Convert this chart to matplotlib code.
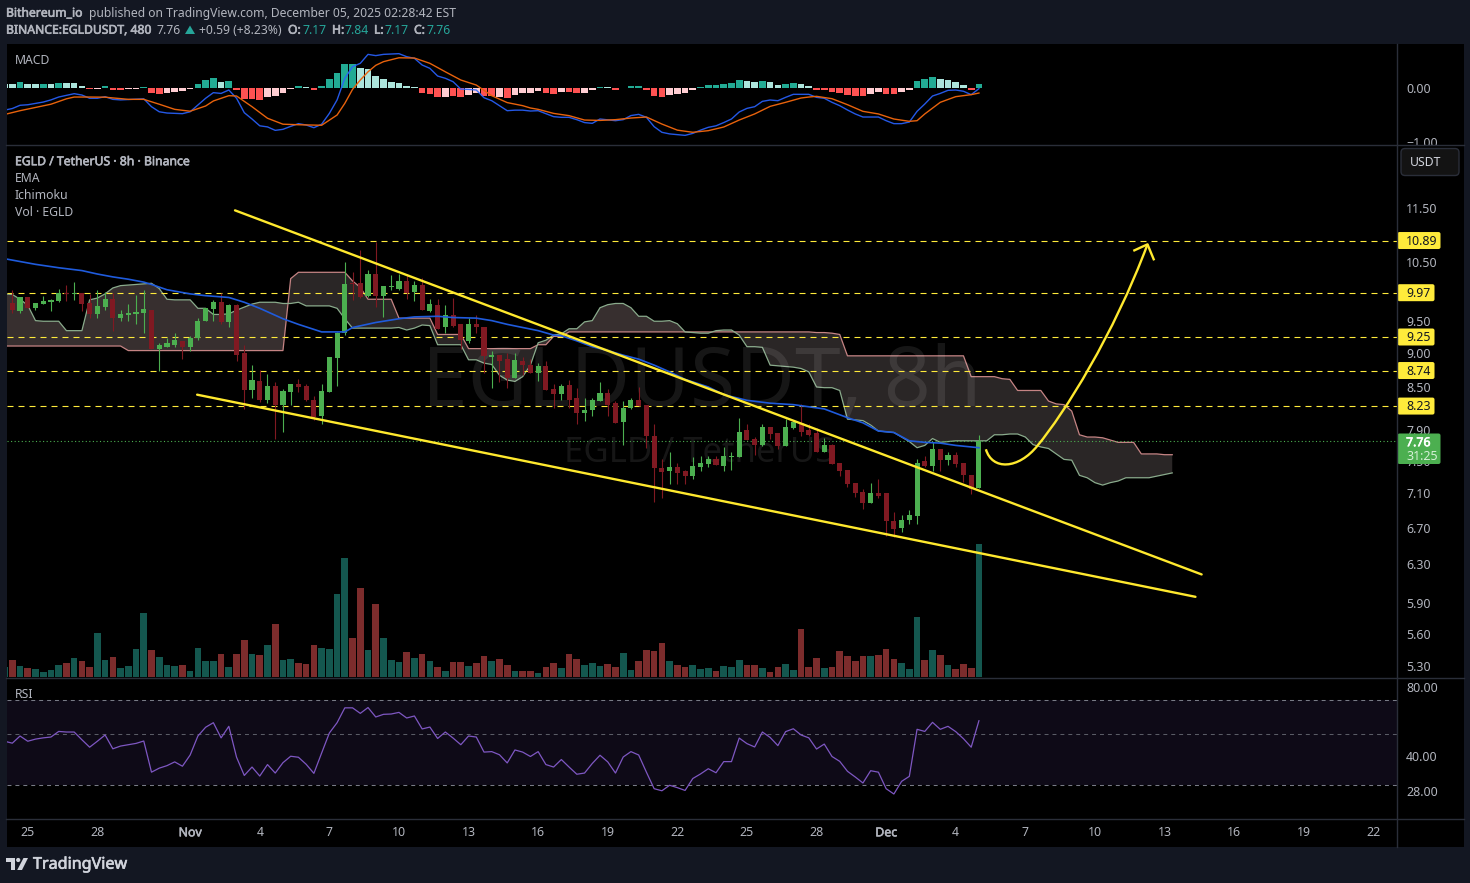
import matplotlib
matplotlib.use('Agg')
import matplotlib.pyplot as plt
import matplotlib.patheffects as pe
import numpy as np
from matplotlib.patches import FancyBboxPatch, PathPatch, Polygon, Circle, Rectangle
from matplotlib.path import Path
from matplotlib.ticker import NullFormatter

plt.rcParams['font.family'] = ['Noto Sans', 'DejaVu Sans']

W, H = 1470, 883

# candles, 8h bars, first entry is the bar cut off by the left edge
open_ = [9.75, 9.80, 9.67, 9.89, 9.71, 9.78, 9.81, 9.83, 9.97, 9.95, 9.96,
         9.80, 9.62, 9.73, 9.86, 9.55, 9.60, 9.62, 9.63, 9.68, 9.07,
         9.10, 9.13, 9.18, 9.10, 9.23, 9.50, 9.70, 9.81, 9.48, 9.76,
         9.00, 8.45, 8.58, 8.32, 8.51, 8.25, 8.43, 8.54, 8.51, 8.32,
         8.09, 8.43, 8.93, 9.31, 10.13, 10.13, 9.91, 10.29, 9.91, 10.06,
         10.04, 10.17, 9.99, 10.10, 9.67, 9.76, 9.40, 9.60, 9.45, 9.18,
         9.45, 9.41, 8.94, 8.97, 8.91, 8.63, 8.88, 8.82, 8.71, 8.81,
         8.47, 8.40, 8.53, 8.35, 8.14, 8.17, 8.30, 8.41, 8.27, 8.01,
         8.21, 8.31, 8.24, 7.83, 7.41, 7.37, 7.43, 7.37, 7.31, 7.42,
         7.46, 7.52, 7.44, 7.55, 7.55, 7.90, 7.78, 7.70, 7.95, 7.86,
         7.69, 7.93, 8.00, 7.90, 7.86, 7.62, 7.70, 7.47, 7.39, 7.22,
         7.12, 6.98, 7.11, 7.10, 6.78, 6.70, 6.79, 6.83, 7.50, 7.44,
         7.65, 7.51, 7.57, 7.47, 7.32, 7.17]
high = [9.90, 10.01, 9.89, 9.89, 9.80, 9.92, 9.86, 10.03, 10.10, 10.15, 9.97,
        9.94, 10.01, 9.99, 9.96, 9.68, 9.78, 9.93, 10.01, 9.68, 9.15,
        9.24, 9.31, 9.18, 9.26, 9.55, 9.71, 9.85, 9.97, 9.78, 9.78,
        9.12, 8.82, 8.75, 8.69, 8.57, 8.47, 8.54, 8.61, 8.54, 8.37,
        8.54, 8.94, 9.33, 10.50, 10.32, 10.71, 10.36, 10.87, 10.08, 10.27,
        10.29, 10.29, 10.17, 10.22, 9.86, 9.86, 9.76, 9.88, 9.45, 9.56,
        9.60, 9.41, 9.04, 8.98, 9.00, 9.00, 8.94, 8.91, 8.85, 8.88,
        8.54, 8.55, 8.60, 8.48, 8.34, 8.35, 8.57, 8.47, 8.30, 8.30,
        8.34, 8.50, 8.24, 7.98, 7.52, 7.62, 7.47, 7.39, 7.55, 7.56,
        7.56, 7.56, 7.68, 7.61, 8.06, 7.98, 7.81, 7.98, 7.95, 7.86,
        8.05, 8.03, 8.26, 7.98, 7.93, 7.80, 7.72, 7.48, 7.39, 7.23,
        7.15, 7.22, 7.27, 7.10, 6.88, 6.84, 6.90, 7.52, 7.56, 7.74,
        7.65, 7.61, 7.61, 7.47, 7.33, 7.84]
low = [9.70, 9.64, 9.63, 9.71, 9.68, 9.78, 9.67, 9.81, 9.83, 9.85, 9.67,
       9.55, 9.55, 9.68, 9.34, 9.51, 9.51, 9.46, 9.32, 9.07, 8.73,
       9.09, 9.09, 8.91, 9.04, 9.21, 9.50, 9.51, 9.45, 9.40, 8.88,
       8.19, 8.35, 8.28, 8.27, 7.78, 7.88, 8.24, 8.43, 8.30, 8.04,
       7.98, 8.43, 8.51, 9.28, 9.85, 9.88, 9.89, 9.73, 9.57, 10.01,
       10.01, 9.86, 9.83, 9.68, 9.65, 9.38, 9.32, 9.41, 9.07, 9.15,
       9.32, 8.70, 8.48, 8.57, 8.48, 8.63, 8.67, 8.70, 8.58, 8.45,
       8.21, 8.31, 8.21, 7.98, 8.02, 8.09, 8.30, 8.09, 8.00, 7.70,
       8.19, 8.23, 7.67, 7.00, 7.05, 7.21, 7.21, 7.21, 7.28, 7.38,
       7.42, 7.45, 7.38, 7.39, 7.55, 7.77, 7.58, 7.69, 7.78, 7.65,
       7.69, 7.92, 7.82, 7.82, 7.62, 7.62, 7.46, 7.31, 7.18, 7.06,
       6.91, 6.98, 7.05, 6.61, 6.59, 6.65, 6.74, 6.74, 7.42, 7.37,
       7.37, 7.45, 7.42, 7.24, 7.09, 7.17]
close = [9.85, 9.68, 9.89, 9.71, 9.80, 9.83, 9.85, 9.97, 9.95, 9.96, 9.78,
         9.62, 9.75, 9.86, 9.55, 9.62, 9.63, 9.65, 9.70, 9.07, 9.12,
         9.15, 9.20, 9.10, 9.23, 9.51, 9.71, 9.81, 9.48, 9.76, 8.98,
         8.45, 8.60, 8.31, 8.51, 8.25, 8.44, 8.54, 8.50, 8.31, 8.08,
         8.44, 8.94, 9.32, 10.11, 10.11, 9.89, 10.29, 9.91, 10.08, 10.08,
         10.17, 9.97, 10.10, 9.68, 9.78, 9.38, 9.60, 9.43, 9.20, 9.45,
         9.40, 8.95, 8.97, 8.88, 8.63, 8.90, 8.82, 8.70, 8.81, 8.45,
         8.40, 8.51, 8.32, 8.14, 8.17, 8.31, 8.41, 8.25, 8.00, 8.21,
         8.31, 8.23, 7.82, 7.41, 7.36, 7.43, 7.35, 7.31, 7.44, 7.47,
         7.52, 7.45, 7.56, 7.56, 7.88, 7.77, 7.70, 7.95, 7.85, 7.69,
         7.94, 8.01, 7.88, 7.84, 7.62, 7.70, 7.46, 7.38, 7.21, 7.10,
         6.98, 7.10, 7.07, 6.78, 6.69, 6.79, 6.84, 7.48, 7.44, 7.65,
         7.51, 7.57, 7.46, 7.33, 7.15, 7.76]

volume = [30, 51, 33, 27, 24, 15, 21, 36, 42, 57, 48, 30, 132, 51, 60, 27, 33, 84, 192,
          81, 60, 36, 33, 36, 18, 87, 48, 48, 69, 30, 69, 111, 69, 66, 96, 159, 51, 54,
          42, 39, 96, 87, 84, 249, 357, 117, 267, 81, 219, 117, 51, 45, 75, 57, 69, 48,
          30, 18, 45, 45, 33, 42, 63, 48, 54, 36, 18, 18, 18, 12, 30, 42, 27, 69, 54, 36,
          42, 33, 39, 30, 72, 21, 48, 81, 78, 102, 48, 36, 30, 36, 24, 27, 18, 33, 30, 51,
          36, 36, 27, 15, 30, 39, 21, 144, 30, 57, 27, 30, 78, 63, 48, 63, 63, 66, 84, 54,
          42, 24, 180, 51, 81, 66, 36, 24, 39, 27, 399]

# ichimoku spans, one value per bar, running 25 bars past the last candle
span_a = [9.95, 9.94, 9.86, 9.76, 9.51, 9.50, 9.50, 9.50, 9.35, 9.35, 9.35, 9.85, 9.88, 9.95,
          10.05, 10.09, 10.10, 10.11, 10.12, 10.13, 10.04, 9.86, 9.85, 9.85, 9.85, 9.71, 9.71,
          9.61, 9.61, 9.62, 9.68, 9.73, 9.78, 9.81, 9.81, 9.81, 9.79, 9.79, 9.81, 9.75, 9.75,
          9.75, 9.75, 9.71, 9.54, 9.39, 9.39, 9.39, 9.39, 9.39, 9.39, 9.40, 9.36, 9.39, 9.44,
          9.43, 9.13, 9.13, 9.13, 9.13, 8.90, 8.90, 8.85, 8.83, 8.67, 8.60, 8.58, 8.65, 8.82,
          9.16, 9.20, 9.28, 9.30, 9.38, 9.38, 9.49, 9.51, 9.72, 9.77, 9.79, 9.79, 9.72, 9.58,
          9.58, 9.50, 9.50, 9.51, 9.46, 9.33, 9.32, 9.31, 9.31, 9.35, 9.36, 9.36, 9.28, 9.10,
          9.10, 9.09, 8.82, 8.81, 8.80, 8.79, 8.77, 8.72, 8.50, 8.49, 8.49, 8.45, 8.05, 8.04,
          8.03, 7.97, 7.89, 7.88, 7.87, 7.81, 7.75, 7.67, 7.70, 7.79, 7.74, 7.75, 7.76, 7.76,
          7.76, 7.76, 7.76, 7.84, 7.84, 7.85, 7.85, 7.81, 7.71, 7.68, 7.66, 7.59, 7.52, 7.51,
          7.32, 7.29, 7.23, 7.20, 7.23, 7.25, 7.29, 7.29, 7.29, 7.29, 7.31, 7.33, 7.35]
span_b = ([9.11] * 16 + [9.04] * 21 + [10.21] + [10.32] * 7 + [10.17, 10.06] + [9.86] * 4
          + [9.55] * 5 + [9.29] * 4 + [9.07] * 9 + [9.13, 9.13, 9.26, 9.26] + [9.33] * 32
          + [9.32, 9.32, 9.31, 9.29] + [8.96] * 16 + [8.65] * 4 + [8.62, 8.61] + [8.45] * 4
          + [8.30, 8.26, 8.25, 8.16, 7.84, 7.81, 7.81, 7.80, 7.77, 7.74, 7.74, 7.74,
             7.59, 7.59, 7.59, 7.58, 7.58])

ema_bars = [-1, 3, 6, 9, 11, 13, 15, 17, 18, 20, 23, 25, 28, 30, 32, 35, 37, 39, 40, 43, 44, 47,
            50, 52, 55, 57, 60, 62, 64, 68, 70, 71, 73, 75, 77, 79, 81, 83, 85, 87, 90, 92, 95,
            98, 101, 103, 105, 108, 110, 112, 114, 116, 118, 120, 122, 124, 125]
ema = [10.56, 10.46, 10.40, 10.35, 10.29, 10.24, 10.20, 10.15, 10.11, 10.02, 9.95, 9.92, 9.89,
       9.81, 9.71, 9.54, 9.45, 9.37, 9.33, 9.33, 9.40, 9.48, 9.54, 9.57, 9.58, 9.56, 9.55, 9.51,
       9.45, 9.35, 9.28, 9.27, 9.19, 9.10, 9.04, 8.97, 8.91, 8.82, 8.72, 8.61, 8.50, 8.39, 8.31,
       8.27, 8.25, 8.22, 8.19, 8.07, 8.00, 7.89, 7.87, 7.76, 7.74, 7.73, 7.70, 7.68, 7.67]

levels = [10.89, 9.97, 9.25, 8.74, 8.23]
last_price = 7.76
price_ticks = [11.5, 10.5, 9.5, 9.0, 8.5, 7.9, 7.5, 7.1, 6.7, 6.3, 5.9, 5.6, 5.3]

# drawings on the chart, (bar, price)
upper_trend = [(28.8, 11.46), (153.8, 6.19)]
lower_trend = [(23.9, 8.39), (153.0, 5.96)]
# two cubic pieces: start, control, control, joint, control, control, tip
arrow_bars = [125.9, 126.7, 130.1, 132.6, 136.1, 142.4, 146.8]
arrow_prices = [7.65, 7.38, 7.39, 7.70, 8.14, 9.28, 10.82]
arrow_head_bars = [145.1, 146.8, 147.6]
arrow_head_prices = [10.71, 10.82, 10.55]

# macd pane
hist = [0.08, 0.074, 0.11, 0.074, 0.074, 0.074, 0.074, 0.09, 0.09, 0.09, 0.037, -0.02, -0.02,
        0.037, -0.037, -0.037, -0.02, -0.02, 0.01, -0.09, -0.11, -0.09, -0.074, -0.055, -0.02,
        0.074, 0.148, 0.185, 0.11, 0.13, -0.037, -0.20, -0.20, -0.22, -0.167, -0.148, -0.09,
        -0.02, 0.037, 0.012, -0.037, 0.037, 0.167, 0.278, 0.444, 0.444, 0.37, 0.352, 0.222,
        0.167, 0.11, 0.093, 0.037, 0.019, -0.093, -0.11, -0.167, -0.167, -0.148, -0.167, -0.13,
        -0.09, -0.148, -0.14, -0.16, -0.18, -0.123, -0.086, -0.086, -0.05, -0.086, -0.105,
        -0.068, -0.068, -0.086, -0.086, -0.03, 0.025, 0.025, -0.03, 0.006, 0.043, 0.043, -0.03,
        -0.14, -0.16, -0.123, -0.105, -0.086, -0.03, 0.025, 0.062, 0.062, 0.08, 0.10, 0.154,
        0.136, 0.117, 0.136, 0.117, 0.062, 0.08, 0.10, 0.08, 0.043, -0.03, -0.03, -0.068,
        -0.086, -0.123, -0.14, -0.14, -0.105, -0.068, -0.105, -0.105, -0.068, -0.03, 0.136,
        0.173, 0.21, 0.173, 0.154, 0.117, 0.062, -0.03, 0.08]
# d = darker shade, l = lighter shade
hist_shade = ('l' 'ldlldldlll' 'dldddllddd' 'lllldddldd' 'dddlllldld' 'dddddlllll'
              'llldddlddl' 'lddldlllld' 'dlddlldldd' 'dddddlllld' 'dddddlldll'
              'ddlldddddd' 'dllddllddd' 'lllldd')

macd_bars = [-1, 0, 1, 2, 4, 5, 6, 7, 8, 9, 10, 11, 12, 13, 14, 17, 18, 19, 20, 22, 23, 24, 25, 26,
             27, 28, 29, 30, 31, 32, 33, 34, 35, 36, 37, 38, 39, 40, 41, 42, 43, 44, 45, 46, 47,
             48, 50, 51, 52, 53, 54, 55, 56, 57, 58, 59, 60, 61, 62, 64, 65, 66, 67, 68, 70, 71,
             72, 73, 74, 75, 76, 78, 79, 80, 81, 82, 83, 84, 85, 87, 88, 89, 90, 91, 92, 93, 94,
             95, 96, 97, 98, 99, 100, 101, 103, 104, 105, 106, 107, 108, 109, 110, 112, 113, 114,
             115, 116, 117, 118, 119, 120, 121, 122, 123, 124, 125]
macd_line = [-0.41, -0.38, -0.32, -0.31, -0.26, -0.22, -0.167, -0.136, -0.105, -0.13, -0.19,
             -0.19, -0.16, -0.21, -0.22, -0.20, -0.346, -0.44, -0.463, -0.475, -0.44, -0.315,
             -0.19, -0.086, -0.10, -0.037, -0.19, -0.457, -0.574, -0.70, -0.72, -0.784, -0.765,
             -0.71, -0.66, -0.685, -0.735, -0.67, -0.47, -0.22, 0.18, 0.395, 0.457, 0.623, 0.60,
             0.623, 0.636, 0.58, 0.55, 0.426, 0.364, 0.222, 0.18, 0.117, -0.02, -0.025, -0.037,
             -0.18, -0.235, -0.42, -0.41, -0.41, -0.426, -0.42, -0.53, -0.543, -0.543, -0.586,
             -0.64, -0.654, -0.574, -0.605, -0.586, -0.51, -0.488, -0.543, -0.716, -0.82, -0.85,
             -0.877, -0.84, -0.78, -0.728, -0.70, -0.64, -0.574, -0.444, -0.377, -0.346, -0.247,
             -0.222, -0.235, -0.173, -0.117, -0.117, -0.173, -0.19, -0.265, -0.327, -0.407, -0.48,
             -0.537, -0.537, -0.605, -0.66, -0.66, -0.63, -0.432, -0.296, -0.148, -0.10, -0.043,
             -0.037, -0.06, -0.123, -0.012]
signal_bars = [-1, 1, 3, 5, 7, 8, 10, 12, 15, 17, 19, 21, 23, 25, 26, 28, 29, 31, 33, 35, 37, 40,
               42, 43, 44, 45, 46, 47, 48, 50, 52, 54, 56, 58, 60, 62, 64, 66, 67, 68, 70, 72, 74,
               76, 78, 80, 82, 84, 86, 88, 90, 92, 94, 96, 98, 100, 102, 103, 104, 106, 108, 110,
               112, 114, 116, 117, 118, 120, 122, 124, 125]
signal_line = [-0.49, -0.42, -0.36, -0.30, -0.20, -0.167, -0.167, -0.17, -0.21, -0.21, -0.30,
               -0.395, -0.43, -0.333, -0.24, -0.142, -0.148, -0.346, -0.56, -0.67, -0.68, -0.69,
               -0.50, -0.284, -0.025, 0.148, 0.30, 0.42, 0.488, 0.56, 0.555, 0.457, 0.30, 0.148,
               0.055, -0.142, -0.27, -0.327, -0.37, -0.395, -0.47, -0.512, -0.593, -0.60, -0.586,
               -0.556, -0.537, -0.667, -0.78, -0.82, -0.79, -0.722, -0.593, -0.48, -0.34, -0.265,
               -0.185, -0.167, -0.154, -0.198, -0.309, -0.432, -0.48, -0.574, -0.617, -0.605,
               -0.48, -0.265, -0.16, -0.123, -0.093]

# rsi pane
rsi = [46.4, 45.5, 48.9, 46.4, 47.4, 48.0, 48.4, 51.2, 50.9, 50.9, 47.1, 43.7, 46.4, 49.4, 43.0,
       44.2, 44.8, 45.4, 46.5, 34.0, 35.4, 36.3, 37.7, 36.1, 40.4, 48.9, 53.4, 55.9, 48.0, 53.9,
       39.5, 32.9, 35.8, 32.7, 36.7, 33.7, 37.4, 39.9, 39.5, 36.8, 33.6, 41.2, 50.4, 55.9, 64.9,
       64.9, 61.4, 65.1, 59.2, 60.8, 61.0, 62.0, 58.6, 59.8, 52.5, 53.5, 47.7, 50.9, 47.9, 44.8,
       48.9, 48.4, 41.6, 41.8, 40.5, 37.3, 42.5, 41.6, 39.8, 41.8, 36.7, 35.8, 38.6, 35.8, 33.3,
       33.7, 37.1, 40.3, 37.7, 33.7, 39.6, 41.8, 40.4, 34.0, 28.8, 28.2, 29.8, 29.1, 28.3, 31.9,
       33.4, 35.2, 33.8, 37.8, 37.8, 47.9, 45.3, 43.8, 50.9, 48.2, 44.4, 51.1, 52.6, 49.4, 48.0,
       42.9, 45.1, 39.8, 37.9, 34.3, 32.4, 30.5, 34.5, 34.0, 28.8, 27.3, 31.0, 32.6, 52.3, 51.2,
       56.1, 52.3, 53.9, 51.1, 47.6, 43.7, 57.0]
rsi_ticks = [80, 40, 28]

# time axis, one label every 9 bars (3 days)
time_ticks = [2, 11, 23, 32, 41, 50, 59, 68, 77, 86, 95, 104, 113, 122, 131, 140, 149, 158, 167, 176]
time_labels = ['25', '28', 'Nov', '4', '7', '10', '13', '16', '19', '22', '25', '28', 'Dec', '4',
               '7', '10', '13', '16', '19', '22']

GREY = '#b2b5be'
GREEN = '#4caf50'
RED = '#801922'
YELLOW = '#ffeb3b'
LINE = '#2a2e39'

# pixel mapping of the panes
LEFT, AXIS_X, RIGHT = 6.5, 1397, 1464
BAR0, BAR_W = 12.3, 7.733
XLIM = ((LEFT - BAR0) / BAR_W, (AXIS_X - BAR0) / BAR_W)


def pane(y0, y1, x0=LEFT, x1=AXIS_X, z=2):
    a = fig.add_axes([x0 / W, 1 - y1 / H, (x1 - x0) / W, (y1 - y0) / H], zorder=z)
    a.set_facecolor('none')
    for s in a.spines.values():
        s.set_visible(False)
    a.set_xlim(*XLIM)
    a.set_xticks([])
    a.tick_params(axis='y', length=0, labelcolor=GREY, labelsize=8.9, pad=6.5)
    a.yaxis.tick_right()
    return a


def set_ticks(a, ticks, labels):
    a.set_yticks(ticks)
    a.set_yticklabels(labels)
    a.minorticks_off()


fig = plt.figure(figsize=(W / 100, H / 100), dpi=100, facecolor='#131722')

bg = fig.add_axes([LEFT / W, 1 - 847 / H, (RIGHT - LEFT) / W, (847 - 44) / H], zorder=0)
bg.set_facecolor('black')
bg.set_xticks([])
bg.set_yticks([])
for s in bg.spines.values():
    s.set_visible(False)

o = np.array(open_)
h = np.array(high)
l = np.array(low)
c = np.array(close)
bars = np.arange(len(o)) - 1
up = c >= o

# volume sits under the price pane, one unit is a third of a pixel
ax_vol = pane(145, 677, z=1)
ax_vol.set_ylim(0, 532 * 3)
ax_vol.set_yticks([])
ax_vol.bar(bars, volume, width=0.86, linewidth=0,
           color=['#14574f' if u else '#7c2c2c' for u in up])

# price pane
ax = pane(145, 677)
ax.set_yscale('log')
ax.set_ylim(5.204, 12.80)
set_ticks(ax, price_ticks, ['%.2f' % p for p in price_ticks])
ax.yaxis.set_minor_formatter(NullFormatter())

a = np.array(span_a)
b = np.array(span_b)
cloud_x = np.arange(len(a)) - 1
ax.fill_between(cloud_x, a, b, where=a >= b, interpolate=True, color='#372f2f', lw=0, zorder=1)
ax.fill_between(cloud_x, a, b, where=a < b, interpolate=True, color='#2a2626', lw=0, zorder=1)
ax.plot(cloud_x, b, color='#c58484', lw=0.9, zorder=2)
ax.plot(cloud_x, a, color='#8aab8c', lw=0.9, zorder=2)

ax.text(89.2, 8.53, 'EGLDUSDT, 8h', color='white', alpha=0.09, fontsize=59, ha='center',
        va='center', zorder=2.5)
ax.text(88.8, 7.60, 'EGLD / TetherUS', color='white', alpha=0.09, fontsize=25, ha='center',
        va='center', zorder=2.5)

for p in levels:
    ax.axhline(p, color=YELLOW, lw=0.8, dashes=(5.4, 4.5), zorder=3)
ax.axhline(last_price, color=GREEN, lw=0.8, dashes=(1, 2.2), zorder=3)

ax.vlines(bars, l, h, colors=[GREEN if u else RED for u in up], lw=0.8, zorder=4)
ax.bar(bars, np.maximum(np.abs(c - o), 0.008), bottom=np.minimum(o, c), width=0.66, linewidth=0,
       color=[GREEN if u else RED for u in up], zorder=5)

ax.plot(ema_bars, ema, color='#1f5bdc', lw=1.2, zorder=6)

for line in (upper_trend, lower_trend):
    ax.plot([line[0][0], line[1][0]], [line[0][1], line[1][1]], color='#ffe92e', lw=1.7,
            zorder=7, solid_capstyle='round')
arrow_path = Path(list(zip(arrow_bars, arrow_prices)),
                  [Path.MOVETO] + [Path.CURVE4] * 6)
ax.add_patch(PathPatch(arrow_path, fill=False, ec='#ffe92e', lw=1.7, zorder=7))
ax.plot(arrow_head_bars, arrow_head_prices, color='#ffe92e', lw=1.7, zorder=7)

# macd pane
ax_macd = pane(44, 144.5)
ax_macd.set_ylim(-1.046, 0.815)
set_ticks(ax_macd, [0, -1], ['0.00', '\u22121.00'])
shade_colors = {(True, 'd'): '#22ab94', (True, 'l'): '#ace5dc',
                (False, 'd'): '#ff5252', (False, 'l'): '#ffcdd2'}
hist_colors = [shade_colors[(v >= 0, s)] for v, s in zip(hist, hist_shade)]
ax_macd.bar(bars, hist, width=0.86, linewidth=0, color=hist_colors)
ax_macd.plot(macd_bars, macd_line, color='#2962ff', lw=1.0, alpha=0.9)
ax_macd.plot(signal_bars, signal_line, color='#e8620c', lw=1.0)

# rsi pane
ax_rsi = pane(678, 818)
ax_rsi.set_yscale('log')
ax_rsi.set_ylim(21.45, 87.6)
set_ticks(ax_rsi, rsi_ticks, ['%.2f' % v for v in rsi_ticks])
ax_rsi.yaxis.set_minor_formatter(NullFormatter())
ax_rsi.axhspan(30, 70, color='#0e0a17', lw=0)
ax_rsi.axhline(70, color='#787b86', lw=0.75, dashes=(3.8, 3.8))
ax_rsi.axhline(50, color='#5a5c66', lw=0.75, dashes=(3.8, 3.8))
ax_rsi.axhline(30, color='#787b86', lw=0.75, dashes=(3.8, 3.8))
ax_rsi.plot(bars, rsi, color='#7e57c2', lw=0.9)
ax_rsi.set_xticks(time_ticks)
ax_rsi.set_xticklabels(time_labels)
ax_rsi.tick_params(axis='x', length=0, labelcolor=GREY, labelsize=8.9, pad=6)
for t, lab in zip(ax_rsi.get_xticklabels(), time_labels):
    if lab in ('Nov', 'Dec'):
        t.set_path_effects([pe.withStroke(linewidth=0.4, foreground=GREY)])

# header, legends and price tags go on a pixel overlay
ov = fig.add_axes([0, 0, 1, 1], zorder=6)
ov.set_xlim(0, W)
ov.set_ylim(H, 0)
ov.axis('off')
ov.patch.set_alpha(0)


def txt(x, y, s, color=GREY, size=8.76, bold=False, ha='left'):
    t = ov.text(x, y + 0.7, s, color=color, fontsize=size, ha=ha, va='center')
    # the installed Noto Sans only draws regular here, so thicken it for the bold runs
    if bold:
        t.set_path_effects([pe.withStroke(linewidth=0.45, foreground=color)])


ov.add_patch(Rectangle((AXIS_X + 1, 144.5), RIGHT - AXIS_X - 1, 6, color='black', lw=0))
ov.plot([LEFT, RIGHT], [144.5, 144.5], color=LINE, lw=1)
ov.plot([LEFT, RIGHT], [677.5, 677.5], color=LINE, lw=1)
ov.plot([LEFT, RIGHT], [818.5, 818.5], color=LINE, lw=1)
ov.plot([AXIS_X + 0.5, AXIS_X + 0.5], [44, 847], color=LINE, lw=1)

TEAL = '#26a69a'
txt(6, 12.5, 'Bithereum_io', bold=True)
txt(89, 12.5, 'published on TradingView.com, December 05, 2025 02:28:42 EST')
txt(6, 29.5, 'BINANCE:EGLDUSDT, 480', bold=True)
txt(157, 29.5, '7.76')
ov.add_patch(Polygon([[185, 34], [195, 34], [190, 25.5]], color=TEAL, lw=0))
txt(199, 29.5, '+0.59 (+8.23%)')
for x, lab, vx, val in [(288, 'O:', 303, '7.17'), (332, 'H:', 345, '7.84'),
                        (374, 'L:', 385, '7.17'), (414, 'C:', 427, '7.76')]:
    txt(x, 29.5, lab, bold=True)
    txt(vx, 29.5, val, color=TEAL)

txt(15, 60, 'MACD', size=8.8)
txt(15, 161, 'EGLD / TetherUS \u00b7 8h \u00b7 Binance', size=8.8, bold=True)
txt(15, 178, 'EMA', size=8.8)
txt(15, 195, 'Ichimoku', size=8.8)
txt(15, 212, 'Vol \u00b7 EGLD', size=8.8)
txt(15, 694, 'RSI', size=8.8)

# USDT button
ov.add_patch(FancyBboxPatch((1403, 150.5), 54, 23, boxstyle='round,pad=2,rounding_size=4',
                            fc='#131313', ec=LINE, lw=1))
txt(1410, 161.5, 'USDT', color='#d1d4dc', size=8.8)


def price_y(p):
    return H - ax.transData.transform((0, p))[1]


for p in levels:
    y = price_y(p)
    w = 43 if p >= 10 else 37
    ov.add_patch(FancyBboxPatch((1398.5, y - 7.5), w - 2, 15, boxstyle='round,pad=1,rounding_size=2',
                                fc='#ffeb3b', ec='none'))
    txt(1406, y, '%.2f' % p, color='#131722', size=8.9)

ov.add_patch(FancyBboxPatch((1398.5, 434.5), 41, 28.5, boxstyle='round,pad=1,rounding_size=2',
                            fc=GREEN, ec='none'))
txt(1406, 442, '7.76', color='white', size=8.9, bold=True)
txt(1406, 456, '31:25', color='#d6f0d7', size=8.9)

# TradingView logo and name
LOGO = '#d1d4dc'
ov.add_patch(Polygon([[6, 858], [15, 858], [15, 870], [11, 870], [11, 862], [6, 862]], color=LOGO, lw=0))
ov.add_patch(Circle((18.2, 860), 2.1, color=LOGO, lw=0))
ov.add_patch(Polygon([[23.5, 858], [28, 858], [22, 870], [17.2, 870]], color=LOGO, lw=0))
txt(33, 864, 'TradingView', color=LOGO, size=11.6, bold=True)

fig.savefig('out.png', dpi=100, facecolor=fig.get_facecolor())
